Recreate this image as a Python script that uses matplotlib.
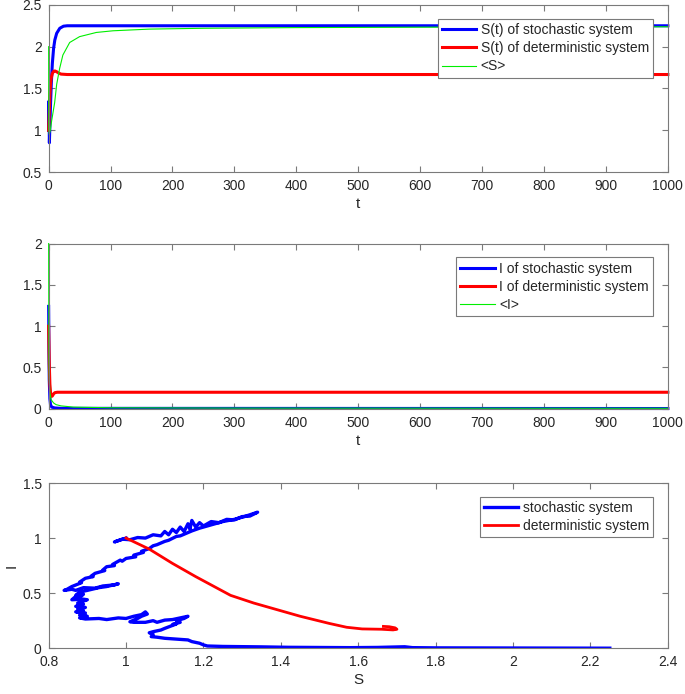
import matplotlib
matplotlib.use("Agg")
import matplotlib.pyplot as plt
from matplotlib.ticker import FuncFormatter

plt.rcParams['font.family'] = ['Liberation Sans', 'DejaVu Sans']

# panel 1: S(t)
t_s_sto = [0, 0.5, 1.2, 2, 3, 4.3, 6, 8, 10, 13, 18, 24, 30, 50, 100, 200, 400, 600, 800, 1000]
s_sto = [1.0, 1.35, 0.85, 1.05, 1.3, 1.56, 1.8, 1.98, 2.08, 2.16, 2.22, 2.245, 2.25, 2.25,
         2.25, 2.25, 2.25, 2.25, 2.25, 2.25]
t_s_det = [0, 1, 2, 3, 4, 6, 8, 10, 13, 16, 20, 30, 100, 1000]
s_det = [1.0, 1.2, 1.42, 1.55, 1.62, 1.68, 1.705, 1.71, 1.70, 1.685, 1.672, 1.667, 1.667, 1.667]
t_s_avg = [0, 0.3, 1, 2.7, 5, 9.7, 13, 17.8, 23, 34, 50, 77, 104, 163, 250, 400, 600, 800, 1000]
s_avg = [2.0, 1.0, 0.95, 1.0, 1.12, 1.33, 1.55, 1.74, 1.9, 2.05, 2.12, 2.17, 2.19, 2.21,
         2.22, 2.228, 2.233, 2.236, 2.238]

# panel 2: I(t)
t_i_sto = [0, 0.5, 1, 2, 3, 5, 10, 20, 1000]
i_sto = [1.24, 0.7, 0.35, 0.12, 0.05, 0.02, 0.01, 0.005, 0.003]
t_i_det = [0, 1, 2, 3, 4, 5, 6, 8, 10, 14, 1000]
i_det = [1.0, 0.55, 0.3, 0.2, 0.16, 0.15, 0.155, 0.18, 0.195, 0.2, 0.2]
t_i_avg = [0, 0.5, 1, 2, 4, 8, 12, 20, 40, 100, 300, 1000]
i_avg = [2.0, 0.6, 0.35, 0.2, 0.11, 0.07, 0.05, 0.035, 0.02, 0.012, 0.008, 0.006]

# panel 3: phase plane (S, I)
S_path_sto = [
    1.00, 0.97, 0.99, 1.01, 1.03, 1.05, 1.07, 1.09, 1.10, 1.11, 1.12, 1.13, 1.14, 1.15, 1.16,
    1.165, 1.17, 1.18, 1.19, 1.20, 1.22, 1.24, 1.26, 1.28, 1.30, 1.32, 1.34,
    1.31, 1.28, 1.25, 1.22, 1.20, 1.19, 1.17, 1.16, 1.14, 1.13, 1.11, 1.10, 1.08, 1.07, 1.06,
    1.04, 1.045, 1.02, 1.025, 1.00, 0.99, 0.985, 0.965, 0.97, 0.95, 0.94, 0.945, 0.92, 0.91,
    0.915, 0.895, 0.88, 0.885, 0.86, 0.845, 0.84,
    0.86, 0.87, 0.89, 0.92, 0.94, 0.97, 0.98, 0.95, 0.93, 0.90, 0.88, 0.87, 0.89, 0.88, 0.87,
    0.86, 0.89, 0.90, 0.875, 0.89, 0.87, 0.895, 0.875, 0.89, 0.87, 0.895, 0.88, 0.90, 0.88, 0.895,
    0.93, 0.95, 0.98, 1.00, 1.02, 1.04, 1.05, 1.055, 1.04, 1.03, 1.01, 1.02, 1.05, 1.07, 1.08,
    1.10, 1.12, 1.14, 1.16, 1.15, 1.13, 1.14, 1.12, 1.13, 1.10, 1.09, 1.07, 1.06, 1.07, 1.065,
    1.08, 1.10, 1.12, 1.14, 1.16, 1.17, 1.19, 1.20, 1.21,
    1.25, 1.30, 1.35, 1.42, 1.50, 1.58, 1.65, 1.72, 1.74, 1.80, 1.90, 2.00, 2.10, 2.25]
I_path_sto = [
    1.00, 0.965, 0.99, 0.985, 1.005, 1.00, 1.03, 1.02, 1.06, 1.03, 1.08, 1.05, 1.10, 1.06, 1.13,
    1.08, 1.16, 1.10, 1.14, 1.11, 1.15, 1.14, 1.17, 1.165, 1.195, 1.20, 1.235,
    1.20, 1.17, 1.15, 1.12, 1.10, 1.09, 1.065, 1.05, 1.02, 1.015, 0.98, 0.97, 0.94, 0.93, 0.905,
    0.88, 0.87, 0.845, 0.83, 0.815, 0.79, 0.80, 0.76, 0.75, 0.74, 0.71, 0.705, 0.68, 0.655,
    0.65, 0.635, 0.60, 0.595, 0.56, 0.53, 0.525,
    0.535, 0.525, 0.55, 0.545, 0.565, 0.575, 0.585, 0.56, 0.55, 0.525, 0.51, 0.48, 0.49, 0.46, 0.47,
    0.44, 0.445, 0.44, 0.41, 0.40, 0.38, 0.37, 0.355, 0.34, 0.33, 0.32, 0.30, 0.29, 0.275, 0.265,
    0.27, 0.26, 0.275, 0.27, 0.29, 0.305, 0.33, 0.31, 0.29, 0.27, 0.24, 0.235, 0.235, 0.25, 0.235,
    0.255, 0.26, 0.275, 0.29, 0.27, 0.25, 0.235, 0.215, 0.22, 0.18, 0.165, 0.15, 0.14, 0.125, 0.105,
    0.10, 0.09, 0.085, 0.08, 0.075, 0.06, 0.045, 0.03, 0.02,
    0.016, 0.014, 0.012, 0.008, 0.006, 0.005, 0.007, 0.013, 0.005, 0.003, 0.002, 0.002, 0.001, 0.0]
S_path_det = [1.0, 1.06, 1.12, 1.18, 1.27, 1.33, 1.38, 1.45, 1.525, 1.57, 1.61, 1.66, 1.69,
              1.70, 1.695, 1.68, 1.665]
I_path_det = [1.0, 0.90, 0.77, 0.65, 0.48, 0.41, 0.36, 0.29, 0.225, 0.19, 0.175, 0.172, 0.166,
              0.172, 0.185, 0.195, 0.198]

BLUE = '#0000ff'
RED = '#ff0000'
GREEN = '#00ee00'
AX_COL = '#7a7a7a'
TXT_COL = '#262626'

fig = plt.figure(figsize=(6.85, 6.94), dpi=100)
left, width = 0.071, 0.904
ax1 = fig.add_axes([left, 0.752, width, 0.241])
ax2 = fig.add_axes([left, 0.411, width, 0.238])
ax3 = fig.add_axes([left, 0.066, width, 0.238])

fmt = FuncFormatter(lambda v, p: '%g' % v)


def style(ax):
    for sp in ax.spines.values():
        sp.set_color(AX_COL)
        sp.set_linewidth(0.8)
    ax.tick_params(direction='in', top=True, right=True, length=4, width=0.8,
                   color=AX_COL, labelcolor=TXT_COL, labelsize=10, pad=5)
    ax.xaxis.set_major_formatter(fmt)
    ax.yaxis.set_major_formatter(fmt)


def add_legend(ax):
    leg = ax.legend(loc='upper right', bbox_to_anchor=(0.976, 0.916), borderaxespad=0,
                    fancybox=False, edgecolor=AX_COL, fontsize=10, handlelength=2.5,
                    handletextpad=0.3, labelspacing=0.3, borderpad=0.3, framealpha=1)
    leg.get_frame().set_linewidth(0.8)
    for txt in leg.get_texts():
        txt.set_color(TXT_COL)


# panel 1
ax1.plot(t_s_sto, s_sto, color=BLUE, lw=2.2, label='S(t) of stochastic system', clip_on=False)
ax1.plot(t_s_det, s_det, color=RED, lw=2.2, label='S(t) of deterministic system', clip_on=False)
ax1.plot(t_s_avg, s_avg, color=GREEN, lw=0.8, label='<S>', clip_on=False)
ax1.set_xlim(0, 1000)
ax1.set_ylim(0.5, 2.5)
ax1.set_xticks(range(0, 1001, 100))
ax1.set_yticks([0.5, 1, 1.5, 2, 2.5])
ax1.set_xlabel('t', fontsize=11, color=TXT_COL, labelpad=3)
style(ax1)
add_legend(ax1)

# panel 2
ax2.plot(t_i_sto, i_sto, color=BLUE, lw=2.2, label='I of stochastic system', clip_on=False)
ax2.plot(t_i_det, i_det, color=RED, lw=2.2, label='I of deterministic system', clip_on=False)
ax2.plot(t_i_avg, i_avg, color=GREEN, lw=0.8, label='<I>', clip_on=False)
ax2.set_xlim(0, 1000)
ax2.set_ylim(0, 2)
ax2.set_xticks(range(0, 1001, 100))
ax2.set_yticks([0, 0.5, 1, 1.5, 2])
ax2.set_xlabel('t', fontsize=11, color=TXT_COL, labelpad=3)
style(ax2)
add_legend(ax2)

# panel 3
ax3.plot(S_path_sto, I_path_sto, color=BLUE, lw=2.4, label='stochastic system')
ax3.plot(S_path_det, I_path_det, color=RED, lw=2.0, label='deterministic system')
ax3.set_xlim(0.8, 2.4)
ax3.set_ylim(0, 1.5)
ax3.set_xticks([0.8, 1, 1.2, 1.4, 1.6, 1.8, 2, 2.2, 2.4])
ax3.set_yticks([0, 0.5, 1, 1.5])
ax3.set_xlabel('S', fontsize=11, color=TXT_COL, labelpad=3)
ax3.set_ylabel('I', fontsize=11, color=TXT_COL, labelpad=3)
style(ax3)
add_legend(ax3)

fig.savefig('out.png', dpi=100)
